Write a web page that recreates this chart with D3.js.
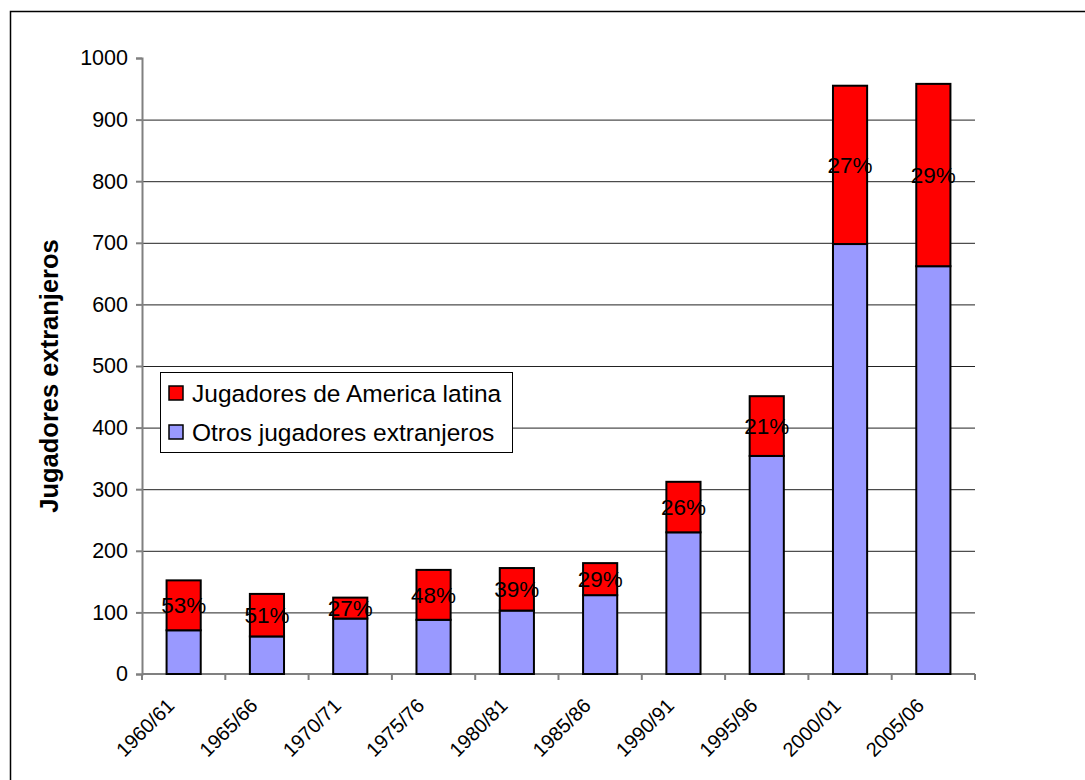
<!DOCTYPE html>
<html>
<head>
<meta charset="utf-8">
<script src="https://cdn.jsdelivr.net/npm/d3@7"></script>
<style>
  body { margin: 0; background: #fff; }
  text { font-family: Arial, "Liberation Sans", sans-serif; }
</style>
</head>
<body>
<div id="myChart"></div>
<script>
// data
const seasons = ["1960/61", "1965/66", "1970/71", "1975/76", "1980/81",
                 "1985/86", "1990/91", "1995/96", "2000/01", "2005/06"];
const otros = [71, 61, 90, 88, 103, 128, 230, 354, 698, 662];
const latinos = [81, 69, 34, 81, 69, 52, 82, 97, 257, 296];
const pctLabels = ["53%", "51%", "27%", "48%", "39%", "29%", "26%", "21%", "27%", "29%"];
const yTicks = [0, 100, 200, 300, 400, 500, 600, 700, 800, 900, 1000];

let width = 1085;
let height = 780;

let svg = d3.select("#myChart").append("svg")
  .attr("width", width)
  .attr("height", height);

// outer frame
svg.append("rect")
  .attr("x", 10.5).attr("y", 11.5)
  .attr("width", width).attr("height", height)
  .attr("fill", "none").attr("stroke", "#000").attr("stroke-width", 1.5);

let margin = {left: 142, right: 975, top: 58, bottom: 674};

let x = d3.scaleBand()
  .domain(seasons)
  .range([margin.left, margin.right])
  .paddingInner(0.59)
  .paddingOuter(0.295);

let xCat = d3.scaleBand().domain(seasons).range([margin.left, margin.right]);

let y = d3.scaleLinear()
  .domain([0, 1000])
  .range([margin.bottom, margin.top]);

// gridlines
svg.append("g")
  .selectAll("line")
  .data(yTicks.filter(d => d > 0 && d < 1000))
  .enter()
  .append("line")
  .attr("x1", margin.left).attr("x2", margin.right)
  .attr("y1", d => y(d) + 0.5).attr("y2", d => y(d) + 0.5)
  .attr("stroke", "#222").attr("stroke-width", 1);

// y axis
let yAxis = svg.append("g")
  .attr("transform", `translate(${margin.left},0)`)
  .call(d3.axisLeft(y).tickValues(yTicks).tickFormat(d3.format("d")).tickSize(6).tickPadding(8));
yAxis.selectAll("path, line").attr("stroke", "#808080").attr("stroke-width", 2);
yAxis.selectAll("text").attr("font-size", 21.5).attr("fill", "#000")
  .style("font-family", "Arial, 'Liberation Sans', sans-serif");

// x axis (ticks at category boundaries)
let xAxisG = svg.append("g").attr("transform", `translate(0,${margin.bottom})`);
xAxisG.append("line")
  .attr("x1", margin.left).attr("x2", margin.right)
  .attr("y1", 0).attr("y2", 0)
  .attr("stroke", "#808080").attr("stroke-width", 2);
xAxisG.selectAll(".tk")
  .data(seasons.concat(["end"]))
  .enter()
  .append("line")
  .attr("x1", (d, i) => margin.left + i * xCat.bandwidth())
  .attr("x2", (d, i) => margin.left + i * xCat.bandwidth())
  .attr("y1", 0).attr("y2", 6)
  .attr("stroke", "#808080").attr("stroke-width", 2);
xAxisG.selectAll(".lbl")
  .data(seasons)
  .enter()
  .append("text")
  .attr("text-anchor", "end")
  .attr("font-size", 20)
  .attr("transform", d => `translate(${xCat(d) + xCat.bandwidth() / 2 - 8},${33}) rotate(-45)`)
  .text(d => d);

// stacked bars
let bars = svg.append("g");
bars.selectAll(".otros")
  .data(seasons)
  .enter()
  .append("rect")
  .attr("x", d => x(d))
  .attr("width", x.bandwidth())
  .attr("y", (d, i) => y(otros[i]))
  .attr("height", (d, i) => y(0) - y(otros[i]))
  .attr("fill", "#9999ff").attr("stroke", "#000").attr("stroke-width", 2);

bars.selectAll(".latinos")
  .data(seasons)
  .enter()
  .append("rect")
  .attr("x", d => x(d))
  .attr("width", x.bandwidth())
  .attr("y", (d, i) => y(otros[i] + latinos[i]))
  .attr("height", (d, i) => y(otros[i]) - y(otros[i] + latinos[i]))
  .attr("fill", "#ff0000").attr("stroke", "#000").attr("stroke-width", 2);

// percentage labels
bars.selectAll(".pct")
  .data(seasons)
  .enter()
  .append("text")
  .attr("x", d => x(d) + x.bandwidth() / 2)
  .attr("y", (d, i) => y(otros[i] + latinos[i] / 2))
  .attr("dy", "0.35em")
  .attr("text-anchor", "middle")
  .attr("font-size", 22.5)
  .text((d, i) => pctLabels[i]);

// y title
svg.append("text")
  .attr("transform", "translate(58,376) rotate(-90)")
  .attr("text-anchor", "middle")
  .attr("font-size", 25.5)
  .attr("font-weight", "bold")
  .text("Jugadores extranjeros");

// legend
let legend = svg.append("g").attr("transform", "translate(160,372)");
legend.append("rect")
  .attr("x", 0.5).attr("y", 0.5)
  .attr("width", 352).attr("height", 80)
  .attr("fill", "#fff").attr("stroke", "#000").attr("stroke-width", 1);

let legendItems = [
  {name: "Jugadores de America latina", color: "#ff0000"},
  {name: "Otros jugadores extranjeros", color: "#9999ff"}
];
let li = legend.selectAll(".li")
  .data(legendItems)
  .enter()
  .append("g")
  .attr("transform", (d, i) => `translate(9,${21 + i * 39})`);
li.append("rect")
  .attr("x", 0).attr("y", -7)
  .attr("width", 14).attr("height", 14)
  .attr("fill", d => d.color).attr("stroke", "#000").attr("stroke-width", 1.5);
li.append("text")
  .attr("x", 23).attr("y", 0)
  .attr("dy", "0.35em")
  .attr("font-size", 24.5)
  .text(d => d.name);
</script>
</body>
</html>
